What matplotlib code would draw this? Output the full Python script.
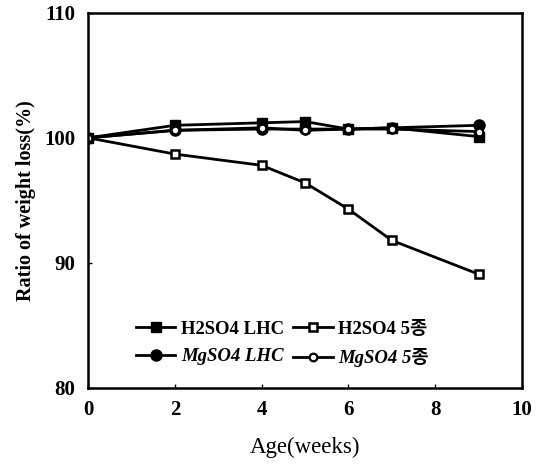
import matplotlib
matplotlib.use("Agg")
import matplotlib.pyplot as plt

weeks = [0, 2, 4, 5, 6, 7, 9]
h2so4_lhc = [100, 101.0, 101.2, 101.3, 100.7, 100.8, 100.1]
h2so4_5 = [100, 98.7, 97.8, 96.4, 94.3, 91.8, 89.1]
mgso4_lhc = [100, 100.6, 100.7, 100.7, 100.7, 100.8, 101.0]
mgso4_5 = [100, 100.6, 100.8, 100.6, 100.7, 100.7, 100.5]

labels = ["H2SO4 LHC", "H2SO4 5종", "MgSO4 LHC", "MgSO4 5종"]
xticks = [0, 2, 4, 6, 8, 10]
yticks = [80, 90, 100, 110]

fonts = ["Liberation Serif", "Noto Sans CJK KR", "DejaVu Sans"]
plt.rcParams["font.family"] = fonts

fig = plt.figure(figsize=(5.37, 4.72), dpi=100)
ax = fig.add_axes([0.164, 0.178, 0.808, 0.795])

kw = dict(color="black", lw=2.0)
l1, = ax.plot(weeks, h2so4_lhc, marker="s", ms=7.5, label=labels[0], **kw)
l2, = ax.plot(weeks, h2so4_5, marker="s", ms=6, mfc="white", mew=1.8, label=labels[1], **kw)
l3, = ax.plot(weeks, mgso4_lhc, marker="o", ms=8, label=labels[2], **kw)
l4, = ax.plot(weeks, mgso4_5, marker="o", ms=5.5, mfc="white", mew=1.6, label=labels[3], **kw)

ax.set_xlim(0, 10)
ax.set_ylim(80, 110)
ax.set_xticks(xticks)
ax.set_yticks(yticks)
ax.tick_params(direction="in", length=3, width=1, labelsize=15, pad=9)
for t in ax.get_xticklabels() + ax.get_yticklabels():
    t.set_fontweight("bold")
for s in ax.spines.values():
    s.set_linewidth(1.8)

ax.set_xlabel("Age(weeks)", fontsize=16.5, labelpad=12)
ax.set_ylabel("Ratio of weight loss(%)", fontsize=14.5, fontweight="bold", labelpad=6)

leg = ax.legend([l1, l3, l2, l4], [labels[0], labels[2], labels[1], labels[3]],
                ncol=2, loc="lower left", bbox_to_anchor=(0.08, 0.02),
                frameon=False, fontsize=13.5, handlelength=2.1,
                handletextpad=0.3, columnspacing=0.5, labelspacing=0.55,
                borderpad=0.2)
for t in leg.get_texts():
    t.set_fontweight("bold")
    if t.get_text().startswith("Mg"):
        t.set_fontstyle("italic")

fig.savefig("out.png", dpi=100)
